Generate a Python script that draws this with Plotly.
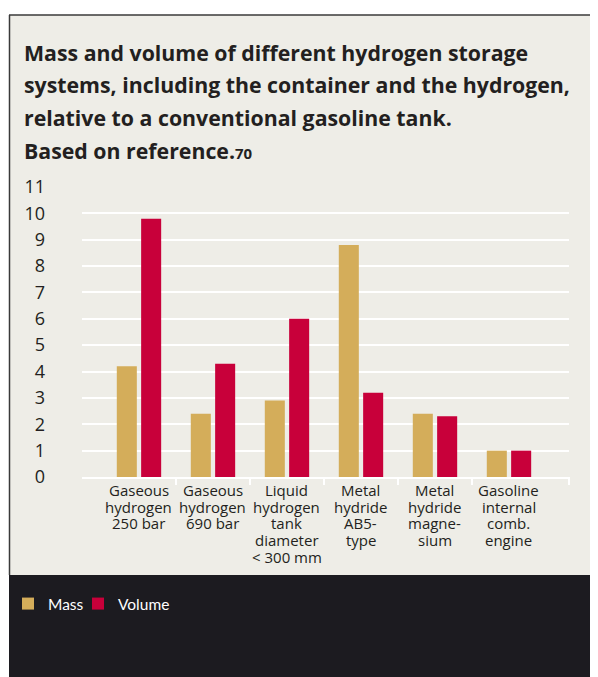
import plotly.graph_objects as go

categories = ["Gaseous hydrogen 250 bar", "Gaseous hydrogen 690 bar",
              "Liquid hydrogen tank diameter < 300 mm", "Metal hydride AB5-type",
              "Metal hydride magnesium", "Gasoline internal comb. engine"]
label_lines = [["Gaseous", "hydrogen", "250 bar"],
               ["Gaseous", "hydrogen", "690 bar"],
               ["Liquid", "hydrogen", "tank", "diameter", "< 300 mm"],
               ["Metal", "hydride", "AB5-", "type"],
               ["Metal", "hydride", "magne-", "sium"],
               ["Gasoline", "internal", "comb.", "engine"]]
mass = [4.2, 2.4, 2.9, 8.8, 2.4, 1.0]
volume = [9.8, 4.3, 6.0, 3.2, 2.3, 1.0]
y_ticks = list(range(0, 12))
title_lines = ["Mass and volume of different hydrogen storage",
               "systems, including the container and the hydrogen,",
               "relative to a conventional gasoline tank.",
               "Based on reference.<span style='font-size:15px'>70</span>"]

OFF = 8  # default page body margin
W, H = 598 - OFF, 677 - OFF
L, R, T, B = 82 - OFF, 29, 187 - OFF, 200
PW, PH = W - L - R, H - T - B
BG = "#eeede7"
DARK = "#1c1b20"
TXT = "#231f20"
FONT = "Open Sans"


def px(x):
    return (x - OFF - L) / PW


def py(y):
    return (H + OFF - B - y) / PH


def cx(x):
    return (x - OFF) / W


def cy(y):
    return 1 - (y - OFF) / H


fig = go.Figure()
fig.add_trace(go.Bar(name="Mass", x=categories, y=mass, marker_color="#d4ad5a",
                     marker_line_width=0, legend="legend"))
fig.add_trace(go.Bar(name="Volume", x=categories, y=volume, marker_color="#c8003a",
                     marker_line_width=0, legend="legend2"))

shapes = [
    dict(type="rect", xref="paper", yref="paper", x0=px(9), x1=px(610), y0=py(15), y1=py(575),
         fillcolor=BG, line_width=0, layer="below"),
    dict(type="rect", xref="paper", yref="paper", x0=px(9), x1=px(610), y0=py(575), y1=py(690),
         fillcolor=DARK, line_width=0, layer="below"),
    dict(type="line", xref="paper", yref="paper", x0=px(9), x1=px(610), y0=py(15), y1=py(15),
         line=dict(color="#3a3a3a", width=1.5), layer="below"),
    dict(type="line", xref="paper", yref="paper", x0=px(9.5), x1=px(9.5), y0=py(15), y1=py(575),
         line=dict(color="#3a3a3a", width=1.5), layer="below"),
]
for i in range(len(categories) - 1):
    shapes.append(dict(type="line", xref="x", yref="paper", x0=i + 0.5, x1=i + 0.5,
                       y0=0, y1=py(485), line=dict(color="white", width=2), layer="above"))
shapes.append(dict(type="line", xref="paper", yref="paper", x0=1, x1=1,
                   y0=0, y1=py(485), line=dict(color="white", width=2), layer="above"))

annotations = []
for i, t in enumerate(title_lines):
    annotations.append(dict(text="<b>" + t + "</b>", xref="paper", yref="paper",
                            x=px(22), y=py(52 + 32.7 * i), xanchor="left", yanchor="middle",
                            showarrow=False, font=dict(family=FONT, size=21.3, color=TXT)))
for c, lines in zip(categories, label_lines):
    for j, ln in enumerate(lines):
        annotations.append(dict(text=ln, xref="x", yref="paper", x=c, y=py(490 + 16.7 * j),
                                xanchor="center", yanchor="middle", showarrow=False,
                                font=dict(family=FONT, size=15, color=TXT)))

leg_common = dict(orientation="h", xref="container", yref="container",
                  xanchor="left", yanchor="top", bgcolor="rgba(0,0,0,0)",
                  font=dict(family="Lato", size=15.5, color="white"))

fig.update_layout(
    width=W, height=H,
    margin=dict(l=L, r=R, t=T, b=B, pad=0),
    paper_bgcolor="white", plot_bgcolor=BG,
    barmode="group", bargap=0.342, bargroupgap=0.177,
    font=dict(family=FONT, color=TXT),
    shapes=shapes, annotations=annotations,
    showlegend=True,
    legend=dict(x=cx(6), y=cy(587), **leg_common),
    legend2=dict(x=cx(78), y=cy(587), **leg_common),
    xaxis=dict(type="category", range=[-0.77, 5.811], showticklabels=False, ticks="",
               showgrid=False, showline=True, linecolor="white", linewidth=2, zeroline=False),
    yaxis=dict(range=[0, 11], tickvals=y_ticks, ticks="", showgrid=True, gridcolor="white",
               gridwidth=2, zeroline=False, showline=False,
               tickfont=dict(family=FONT, size=18, color=TXT), ticklabelstandoff=36),
)

fig.write_html("out.html")
